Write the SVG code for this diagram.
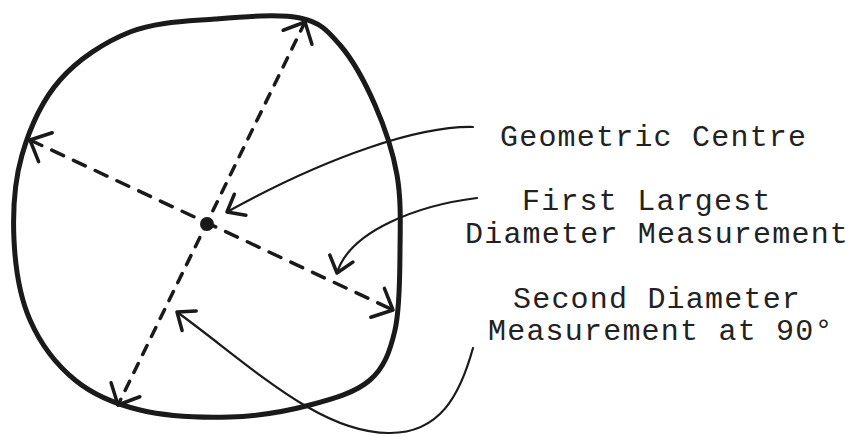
<svg xmlns="http://www.w3.org/2000/svg" width="851" height="437" viewBox="0 0 851 437">
  <style>
    .outline { fill: none; stroke: #1a1a1a; stroke-width: 5; stroke-linejoin: round; }
    .dash { fill: none; stroke: #1a1a1a; stroke-width: 3.5; stroke-linecap: round; stroke-dasharray: 13 11; }
    .dash2 { stroke-dasharray: 10 10; }
    .leader { fill: none; stroke: #1a1a1a; stroke-width: 2.2; stroke-linecap: round; }
    .label { font-family: "Liberation Mono", "Courier New", monospace; font-size: 30px; letter-spacing: 1.2px; fill: #222; }
  </style>
  <defs>
    <marker id="dimHead" markerUnits="userSpaceOnUse" viewBox="-25 -20 30 40" refX="0" refY="0" markerWidth="30" markerHeight="40" orient="auto-start-reverse" overflow="visible">
      <path d="M -17,-16 L 0,0 L -17,16" fill="none" stroke="#1a1a1a" stroke-width="3.5" stroke-linecap="round" stroke-linejoin="round"/>
    </marker>
    <marker id="leadHead" markerUnits="userSpaceOnUse" viewBox="-25 -20 30 40" refX="0" refY="0" markerWidth="30" markerHeight="40" orient="auto" overflow="visible">
      <path d="M -15,-12 L 0,0 L -15,12" fill="none" stroke="#1a1a1a" stroke-width="3.5" stroke-linecap="round" stroke-linejoin="round"/>
    </marker>
  </defs>

  <g id="outline">
    <path class="outline" d="M 215,19 C 243.3,16.7 279.2,13.7 300,18 C 320.8,22.3 327.5,30.5 340,45 C 352.5,59.5 365.5,83.3 375,105 C 384.5,126.7 392.8,150.8 397,175 C 401.2,199.2 400.3,224.2 400,250 C 399.7,275.8 400,308.3 395,330 C 390,351.7 384.2,367.5 370,380 C 355.8,392.5 333.3,398.8 310,405 C 286.7,411.2 258.3,416.2 230,417 C 201.7,417.8 165.8,416.2 140,410 C 114.2,403.8 93.3,395 75,380 C 56.7,365 40.2,343.3 30,320 C 19.8,296.7 15.3,267.5 14,240 C 12.7,212.5 14.3,181.7 22,155 C 29.7,128.3 42,100.5 60,80 C 78,59.5 104.2,42.2 130,32 C 155.8,21.8 186.7,21.3 215,19 Z"/>
  </g>

  <g id="centre">
    <circle cx="207" cy="224" r="7" fill="#1a1a1a"/>
  </g>

  <g id="connectors">
    <line id="first-diameter" class="dash" x1="30" y1="140" x2="393" y2="310" marker-start="url(#dimHead)" marker-end="url(#dimHead)"/>
    <line id="second-diameter" class="dash dash2" x1="305" y1="22" x2="118" y2="405" marker-start="url(#dimHead)" marker-end="url(#dimHead)"/>
    <path id="leader-centre" class="leader" d="M 473,127 C 420,126 330,155 227,212" marker-end="url(#leadHead)"/>
    <path id="leader-first" class="leader" d="M 477,198 C 420,205 350,230 337,273" marker-end="url(#leadHead)"/>
    <path id="leader-second" class="leader" d="M 473,348 C 460,395 440,433 390,433 C 320,434 250,365 177,312" marker-end="url(#leadHead)"/>
  </g>

  <g id="label-centre">
    <text class="label" x="500" y="146">Geometric Centre</text>
  </g>
  <g id="label-first">
    <text class="label" x="522" y="210">First Largest</text>
    <text class="label" x="465" y="243">Diameter Measurement</text>
  </g>
  <g id="label-second">
    <text class="label" x="513" y="308">Second Diameter</text>
    <text class="label" x="488" y="340">Measurement at 90°</text>
  </g>
</svg>
